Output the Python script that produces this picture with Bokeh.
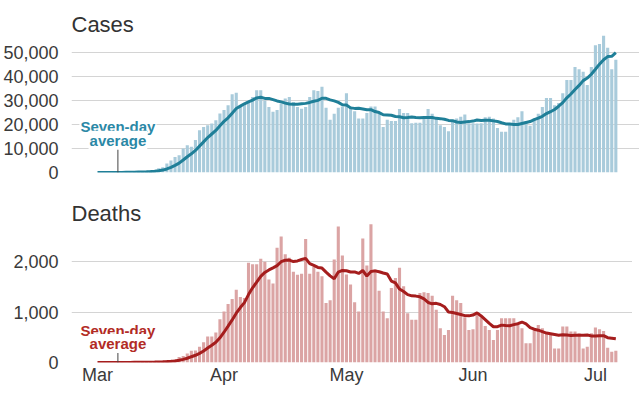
import pandas as pd
from bokeh.plotting import figure
from bokeh.layouts import column
from bokeh.models import (ColumnDataSource, FixedTicker, NumeralTickFormatter,
                          Range1d, Label, DatetimeTickFormatter)
from bokeh.embed import file_html
from bokeh.resources import INLINE

start_date = "2020-03-01"

cases = [
    10, 20, 25, 30, 70, 90, 110, 130, 140, 290, 420, 400, 600, 700, 900,
    1800, 2200, 3700, 5000, 6500, 7200, 10000, 11400, 10700, 13500, 17600,
    19000, 19700, 20400, 21800, 24600, 26000, 28000, 32600, 33200, 27300,
    28700, 30000, 31500, 34300, 34300, 30000, 27300, 25300, 26000, 28700,
    30800, 31500, 29400, 27300, 26600, 27300, 31500, 34300, 34000, 35700,
    27000, 22000, 24500, 27000, 27500, 33000, 27500, 25500, 22500, 22500,
    24800, 27500, 27500, 24500, 19000, 22000, 21500, 21500, 26500, 24800,
    24800, 20500, 20700, 20700, 22500, 26500, 24500, 22500, 19700, 19000,
    17200, 21800, 22500, 23200, 24200, 20500, 20500, 20400, 20500, 23000,
    23200, 22500, 18500, 17000, 17000, 20000, 22000, 23000, 25500, 21500,
    19500, 22500, 24500, 27300, 31000, 31000, 28000, 29000, 33000, 38500,
    38500, 44000, 43000, 42000, 36500, 44000, 53000, 53500, 57000, 52000,
    43000, 47000,
]

deaths = [
    0, 1, 1, 2, 1, 2, 3, 2, 4, 4, 6, 9, 11, 9, 11,
    20, 25, 40, 50, 60, 110, 130, 180, 234, 240, 314, 400, 514, 514, 594,
    860, 1014, 1160, 1260, 1447, 1300, 1280, 1980, 1950, 1950, 2060, 2000,
    1650, 1570, 2280, 2500, 2150, 2080, 1800, 1740, 1760, 2450, 1760, 1900,
    1800, 1714, 1180, 1234, 2047, 2700, 2127, 1747, 1547, 1194, 1014, 2460,
    1927, 2747, 1847, 1427, 1014, 880, 1480, 1680, 1880, 1514, 980, 847,
    847, 1380, 1394, 1380, 1327, 1047, 680, 547, 647, 1327, 1234, 1180, 900,
    647, 660, 947, 900, 727, 647, 447, 647, 880, 880, 880, 880, 780, 680,
    380, 380, 647, 747, 680, 580, 580, 280, 280, 714, 714, 614, 614, 580,
    280, 314, 580, 694, 660, 627, 294, 214, 234,
]

month_ticks = ["2020-03-01", "2020-04-01", "2020-05-01", "2020-06-01", "2020-07-01"]
month_labels = ["Mar", "Apr", "May", "Jun", "Jul"]
case_ticks = [0, 10000, 20000, 30000, 40000, 50000]
death_ticks = [0, 1000, 2000]

dates = pd.date_range(start_date, periods=len(cases), freq="D")
df = pd.DataFrame({"date": dates, "cases": cases, "deaths": deaths})
df["cases_avg"] = df["cases"].rolling(7, min_periods=1).mean()
df["deaths_avg"] = df["deaths"].rolling(7, min_periods=1).mean()
src = ColumnDataSource(df)

DAY = 24 * 3600 * 1000
x0 = pd.Timestamp(start_date) - pd.Timedelta(days=6.37)
x1 = pd.Timestamp(start_date) + pd.Timedelta(days=132.8)
tick_ms = [pd.Timestamp(t).value // 10**6 for t in month_ticks]
FONT = "Liberation Sans"
TXT = "#3a3a3a"


def base_fig(frame_h, ymax, yticks, title, border_top, border_bottom, x_axis):
    p = figure(frame_width=568, frame_height=frame_h, x_axis_type="datetime",
               x_range=Range1d(x0, x1), y_range=Range1d(0, ymax),
               x_axis_location="below" if x_axis else None,
               output_backend="svg", toolbar_location=None,
               min_border_left=64, min_border_right=0,
               min_border_top=border_top, min_border_bottom=border_bottom)
    p.outline_line_color = None
    p.xgrid.grid_line_color = None
    p.ygrid.grid_line_color = "#d4d4d4"
    p.ygrid.grid_line_width = 1
    p.yaxis.ticker = FixedTicker(ticks=yticks)
    p.yaxis.formatter = NumeralTickFormatter(format="0,0")
    p.yaxis.axis_line_color = None
    p.yaxis.major_tick_line_color = None
    p.yaxis.minor_tick_line_color = None
    p.yaxis.major_label_text_font = FONT
    p.yaxis.major_label_text_font_size = "18px"
    p.yaxis.major_label_text_color = TXT
    p.yaxis.major_label_standoff = 7
    if x_axis:
        p.xaxis.ticker = FixedTicker(ticks=tick_ms)
        p.xaxis.formatter = DatetimeTickFormatter(months="%b", days="%b")
        p.xaxis.major_label_overrides = dict(zip(tick_ms, month_labels))
        p.xaxis.axis_line_color = None
        p.xaxis.major_tick_line_color = None
        p.xaxis.minor_tick_line_color = None
        p.xaxis.major_tick_out = 0
        p.xaxis.major_tick_in = 0
        p.xaxis.minor_tick_out = 0
        p.xaxis.major_label_text_font = FONT
        p.xaxis.major_label_text_font_size = "18px"
        p.xaxis.major_label_text_color = TXT
        p.xaxis.major_label_standoff = 2
    p.title.text = title
    p.title.text_font = FONT
    p.title.text_font_size = "22px"
    p.title.text_font_style = "normal"
    p.title.text_color = "#333333"
    p.title.align = "left"
    p.title.standoff = -5
    return p


p1 = base_fig(138, 57500, case_ticks, "Cases", 34, 18, False)
p1.vbar(x="date", top="cases", width=0.76 * DAY, source=src,
        fill_color="#a9cbdb", line_color=None)
p1.line(x="date", y="cases_avg", source=src, line_color="#1f7f98", line_width=3)

p2 = base_fig(139, 2760, death_ticks, "Deaths", 33, 18, True)
p2.vbar(x="date", top="deaths", width=0.76 * DAY, source=src,
        fill_color="#dba4a4", line_color=None)
p2.line(x="date", y="deaths_avg", source=src, line_color="#a51d1d", line_width=3)

pointer_x = pd.Timestamp(start_date) + pd.Timedelta(days=5)
for p, col, y_top, y1, y2 in [(p1, "#2b88a6", 12200, 19000, 13460),
                               (p2, "#b22b25", 278, 644, 378)]:
    p.segment(x0=[pointer_x], y0=[0], x1=[pointer_x], y1=[y_top],
              line_color="#444444", line_width=1)
    for txt, yy in [("Seven-day", y1), ("average", y2)]:
        p.add_layout(Label(x=pointer_x, y=yy, text=txt, text_align="center",
                           text_baseline="alphabetic", text_font=FONT,
                           text_font_size="15px", text_font_style="bold",
                           text_color=col, background_fill_color="white",
                           padding=1))

layout = column(p1, p2, spacing=0)
open("out.html", "w").write(file_html(layout, INLINE))
